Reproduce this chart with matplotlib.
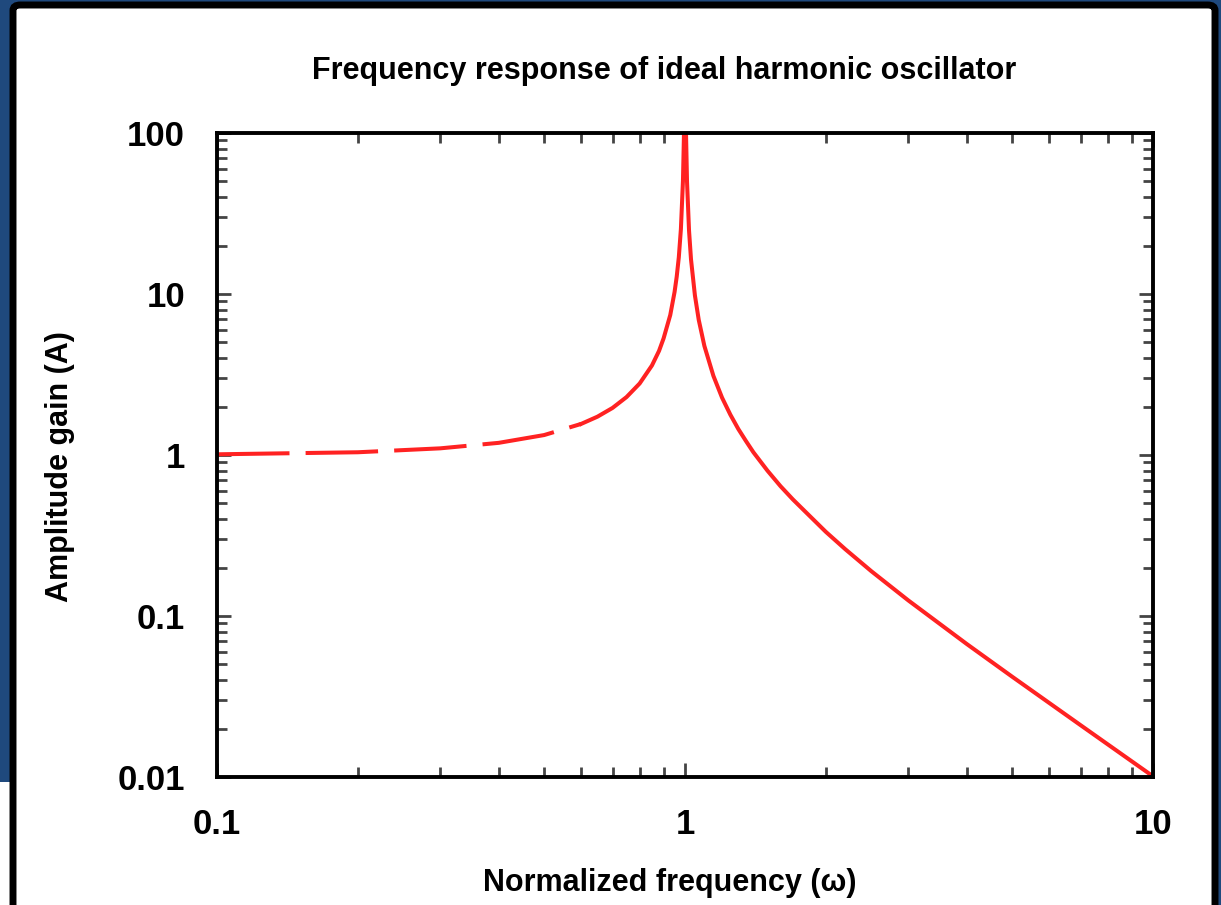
import numpy as np
import matplotlib.pyplot as plt
from matplotlib.patches import FancyBboxPatch, Rectangle
from matplotlib.ticker import LogLocator, NullFormatter, FixedLocator

plt.rcParams['font.family'] = ['Liberation Sans', 'DejaVu Sans']

# Values
freq_low = [0.1, 0.2, 0.3, 0.4, 0.5, 0.6, 0.65, 0.7, 0.75, 0.8, 0.85, 0.88,
            0.9, 0.93, 0.95, 0.96, 0.97, 0.98, 0.99, 0.995]
gain_low = [1.01, 1.04, 1.10, 1.19, 1.33, 1.56, 1.73, 1.96, 2.29, 2.78, 3.6,
            4.43, 5.3, 7.4, 10.3, 12.8, 16.9, 25.3, 50.3, 100.0]
freq_high = [1.005, 1.01, 1.02, 1.03, 1.05, 1.07, 1.1, 1.15, 1.2, 1.25, 1.3,
             1.35, 1.4, 1.5, 1.6, 1.7, 1.8, 2.0, 2.2, 2.5, 3.0, 4.0, 5.0, 7.0, 10.0]
gain_high = [99.8, 49.8, 24.8, 16.4, 9.8, 6.9, 4.76, 3.10, 2.27, 1.78, 1.45,
             1.22, 1.04, 0.80, 0.64, 0.53, 0.45, 0.333, 0.26, 0.19, 0.125,
             0.067, 0.042, 0.021, 0.0101]

x_ticks = [0.1, 1, 10]
x_labels = ['0.1', '1', '10']
y_ticks = [0.01, 0.1, 1, 10, 100]
y_labels = ['0.01', '0.1', '1', '10', '100']

W, H = 1221, 905
fig = plt.figure(figsize=(W / 100, H / 100), dpi=100)
fig.patch.set_facecolor('#1f497d')

# screenshot frame behind the chart
fig.patches.append(Rectangle((0, 0), 12 / W, (H - 782) / H, transform=fig.transFigure,
                             facecolor='white', edgecolor='none', zorder=-3))
fig.patches.append(FancyBboxPatch((13 / W, -0.05), (1215 - 13) / W, (H - 5) / H + 0.05,
                                  boxstyle='round,pad=0,rounding_size=0.006',
                                  transform=fig.transFigure, facecolor='white',
                                  edgecolor='black', linewidth=5, zorder=-2))

ax = fig.add_axes([217 / W, 1 - 777 / H, (1153 - 217) / W, (777 - 133) / H])
ax.set_xscale('log')
ax.set_yscale('log')
ax.set_xlim(0.1, 10)
ax.set_ylim(0.01, 100)

red = '#ff2222'
# flat part of the low branch comes out dashed in the original
ax.plot(freq_low[:6], gain_low[:6], color=red, lw=2.9, dashes=(18, 4))
ax.plot(freq_low[5:], gain_low[5:], color=red, lw=2.9)
ax.plot(freq_high, gain_high, color=red, lw=2.9)

ax.xaxis.set_major_locator(FixedLocator(x_ticks))
ax.set_xticklabels(x_labels)
ax.yaxis.set_major_locator(FixedLocator(y_ticks))
ax.set_yticklabels(y_labels)
ax.xaxis.set_minor_locator(LogLocator(base=10, subs=np.arange(2, 10)))
ax.yaxis.set_minor_locator(LogLocator(base=10, subs=np.arange(2, 10)))
ax.xaxis.set_minor_formatter(NullFormatter())
ax.yaxis.set_minor_formatter(NullFormatter())

ax.tick_params(which='both', direction='in', top=True, right=True, color='#444444')
ax.tick_params(which='major', length=10, width=2, labelsize=25, pad=23)
ax.tick_params(which='minor', length=7, width=2)
ax.tick_params(axis='x', which='major', pad=22)
for lbl in ax.get_xticklabels() + ax.get_yticklabels():
    lbl.set_fontweight('bold')
for s in ax.spines.values():
    s.set_linewidth(2.8)
    s.set_color('black')

fig.text(664 / W, 1 - 71 / H, 'Frequency response of ideal harmonic oscillator',
         fontsize=22, fontweight='bold', ha='center', va='center')
fig.text(670 / W, 1 - 883 / H, 'Normalized frequency (\u03c9)',
         fontsize=22, fontweight='bold', ha='center', va='center')
fig.text(60 / W, 1 - 467 / H, 'Amplitude gain (A)', rotation=90,
         fontsize=22, fontweight='bold', ha='center', va='center')

fig.savefig('out.png', dpi=100, facecolor=fig.get_facecolor())
